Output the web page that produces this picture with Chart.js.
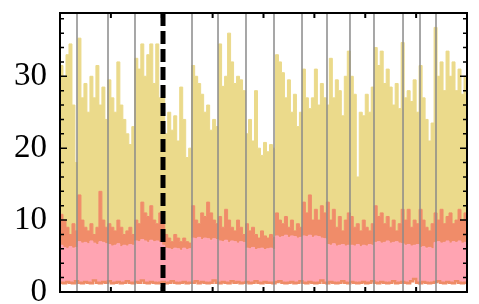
<!DOCTYPE html>
<html><head><meta charset="utf-8">
<script src="https://cdn.jsdelivr.net/npm/chart.js@4/dist/chart.umd.min.js"></script>
<style>html,body{margin:0;padding:0;background:#fff;overflow:hidden}canvas{display:block}</style>
</head><body>
<canvas id="c" width="479" height="304"></canvas>
<script>
// bottom thin line (values)
const baseLine=[1.3,1.2,1.4,1.3,1.2,1.5,1.3,1.2,1.4,1.3,
1.2,1.6,1.3,1.2,1.4,1.3,1.5,1.2,1.3,1.4,
1.2,1.3,1.5,1.3,1.2,1.4,1.3,1.6,1.3,1.2,
1.4,1.3,1.2,1.3,1.4,1.2,1.3,1.5,1.3,1.2,
1.3,1.4,1.2,1.3,1.3,1.5,1.2,1.4,1.3,1.2,
1.3,1.6,1.3,1.2,1.4,1.3,1.2,1.5,1.3,1.4,
1.2,1.3,1.4,1.2,1.3,1.5,1.3,1.2,1.4,1.3,
1.3,1.2,1.4,1.5,1.3,1.2,1.3,1.4,1.2,1.3,
1.5,1.3,1.2,1.4,1.3,1.2,1.3,1.6,1.3,1.2,
1.4,1.3,1.2,1.3,1.5,1.3,1.2,1.4,1.3,1.2,
1.3,1.4,1.2,1.3,1.5,1.3,1.2,1.4,1.3,1.2,
1.3,1.5,1.2,1.3,1.4,1.3,1.2,1.5,1.8,1.3,
1.2,1.4,1.3,1.2,1.3,1.4,1.5,1.3,1.2,1.4,
1.3,1.2,1.5,1.3,1.2,1.3];
// top of pink band
const pinkTop=[6.5,6.2,6.0,6.3,6.1,6.2,
7.0,6.8,6.9,6.7,7.1,6.8,6.6,7.0,6.9,6.7,
6.6,6.4,6.5,6.7,6.3,6.5,6.4,6.6,6.5,
7.1,7.0,7.3,7.1,6.9,7.2,7.0,7.1,6.9,
6.5,6.1,6.0,5.9,6.1,6.0,5.8,6.1,5.9,6.0,
7.5,7.4,7.6,7.3,7.5,7.4,7.2,7.4,7.3,
7.1,7.0,7.2,6.9,7.1,7.0,6.8,7.0,6.9,
6.1,6.0,6.2,5.9,6.0,6.1,5.9,6.0,6.1,5.9,
7.8,7.6,7.7,7.9,7.6,7.8,7.7,7.5,7.6,
7.8,7.7,7.9,7.6,7.8,7.7,7.5,7.4,
6.6,6.5,6.7,6.4,6.5,6.6,6.4,6.5,
6.5,6.4,6.6,6.3,6.5,6.4,6.6,6.5,
6.9,7.0,6.8,6.9,7.1,6.8,6.9,7.0,6.8,6.7,
6.5,6.6,6.4,6.5,6.6,
6.2,6.3,6.1,6.2,6.0,
6.9,7.0,6.8,6.9,7.1,6.8,7.0,6.9,7.1,6.8,6.9];
// top of orange band
const orangeTop=[10.8,10,9,8,9.5,8.5,
13.5,10,9,8.5,9.5,8,9,14,10,9,
9.5,9,8.5,10,9,8,8.5,9,8,
10,9.5,12.5,11,10.5,12,10,9.5,11,
9.5,8,7.5,7,8,7.5,7,7.5,7,6.8,
12,10,9.5,11,10.5,12.5,11,10,9.5,
10.5,9,11.5,10,9,8.5,10,9,8,
9.5,8.5,9,8,7.5,8.5,7.8,7.5,8,7.6,
11,10,9.5,10.5,9,10,8.5,9.5,9,
12.5,11,13.5,10,11.5,10,12,11,
12.5,10,11.5,9,10.5,8.5,10,11,
10.5,9,9.5,8.5,10,9,8.5,9.5,
12,10.5,11,9.5,10.5,9,10,8.5,9.5,11.5,
10,11.5,9,10,9.5,
11.5,10,9,8.5,9.5,
11,10,11.5,9.5,10.5,11,9.5,10,11.5,10,11];
// top of yellow band
const yellowTop=[31.5,30,33,34.5,26,18,
35.3,27,29,25,30,27,31.5,26,28.5,24,
29.5,27,25,32,26,24,22,20.5,23,
32.5,31,34.5,30,33,34.5,29,34.5,27,
28.7,22,25,22.5,24.5,21,28.5,24,18.7,20,
31.5,30,29,27.5,25,26,22.5,24,23,
34.5,28.6,30,36,32,29,30,29.5,28,
22,24,21,28,20,19,20.8,19.5,20.5,20,
33,32,30.5,27,29.5,25,27.5,23,25,
31,27,25.5,27,31,26,29,27,
26,32.5,27,29.5,28,24.5,30,33.5,
30,27.5,16,25,24.5,27.5,25,28.5,
34,31.5,33.5,29,31,28.5,26,29,25.5,34.7,
27,28,26.5,29.5,25,
31.5,27,24,21,23.5,
36.8,30,32,28,33.5,30,32,28,31,27.5,30];
const eventLines=[5.68,16.04,25.06,44.11,52.80,62.15,71.51,80.87,89.22,96.90,104.92,114.62,120.30,125.64];
const markerLine=[34.42];
const yLabels=[0,10,20,30];
const xMax=136, xTickStep=17, yMax=38.8, yMinorStep=2, yMajorStep=10;

function pts(arr){const p=arr.map((v,i)=>({x:i,y:v}));p.push({x:arr.length,y:arr[arr.length-1]});return p;}

const decor={id:'decor',afterDatasetsDraw(chart){
  const {ctx,chartArea:a,scales:{x,y}}=chart;
  ctx.save();
  ctx.strokeStyle='#8a8a8a';ctx.lineWidth=1.5;
  eventLines.forEach(v=>{const px=x.getPixelForValue(v);ctx.beginPath();ctx.moveTo(px,a.top);ctx.lineTo(px,a.bottom);ctx.stroke();});
  ctx.strokeStyle='#000';ctx.lineWidth=5;ctx.setLineDash([13,5]);
  markerLine.forEach(v=>{const px=x.getPixelForValue(v);ctx.beginPath();ctx.moveTo(px,a.top);ctx.lineTo(px,a.bottom);ctx.stroke();});
  ctx.setLineDash([]);
  ctx.lineWidth=2;ctx.strokeRect(a.left,a.top,a.right-a.left,a.bottom-a.top);
  ctx.lineWidth=1.5;
  for(let v=0;v<=yMax+1e-9;v+=yMinorStep){
    const py=y.getPixelForValue(v);const L=(Math.abs(v%yMajorStep)<1e-9)?7:4;
    ctx.beginPath();ctx.moveTo(a.left,py);ctx.lineTo(a.left+L,py);ctx.moveTo(a.right,py);ctx.lineTo(a.right-L,py);ctx.stroke();
  }
  ctx.lineWidth=2;
  for(let v=xTickStep;v<xMax;v+=xTickStep){
    const px=x.getPixelForValue(v);
    ctx.beginPath();ctx.moveTo(px,a.top);ctx.lineTo(px,a.top+5);ctx.moveTo(px,a.bottom);ctx.lineTo(px,a.bottom-5);ctx.stroke();
  }
  ctx.restore();
}};

new Chart(document.getElementById('c'),{
  type:'line',
  data:{datasets:[
    {data:pts(baseLine),borderColor:'#EE8C67',borderWidth:2.5,fill:false},
    {data:pts(pinkTop),borderColor:'#FFA4B2',backgroundColor:'#FFA4B2',borderWidth:1,fill:'-1'},
    {data:pts(orangeTop),borderColor:'#F08C69',backgroundColor:'#F08C69',borderWidth:1,fill:'-1'},
    {data:pts(yellowTop),borderColor:'#EBDA8B',backgroundColor:'#EBDA8B',borderWidth:1,fill:'-1'}
  ]},
  options:{
    responsive:false,animation:false,devicePixelRatio:1,
    layout:{padding:{top:13,right:12,bottom:12,left:0}},
    elements:{point:{radius:0},line:{stepped:true,tension:0}},
    plugins:{legend:{display:false},tooltip:{enabled:false}},
    scales:{
      x:{type:'linear',min:0,max:xMax,display:false},
      y:{min:0,max:yMax,
        afterBuildTicks:s=>{s.ticks=yLabels.map(v=>({value:v}));},
        afterFit:s=>{s.width=60;s.paddingTop=0;s.paddingBottom=0;},
        grid:{display:false,drawTicks:false},border:{display:false},
        ticks:{autoSkip:false,padding:13,color:'#000',font:{family:'"Liberation Serif", "Times New Roman", serif',size:33},callback:v=>String(v)}
      }
    }
  },
  plugins:[decor]
});
</script>
</body></html>
